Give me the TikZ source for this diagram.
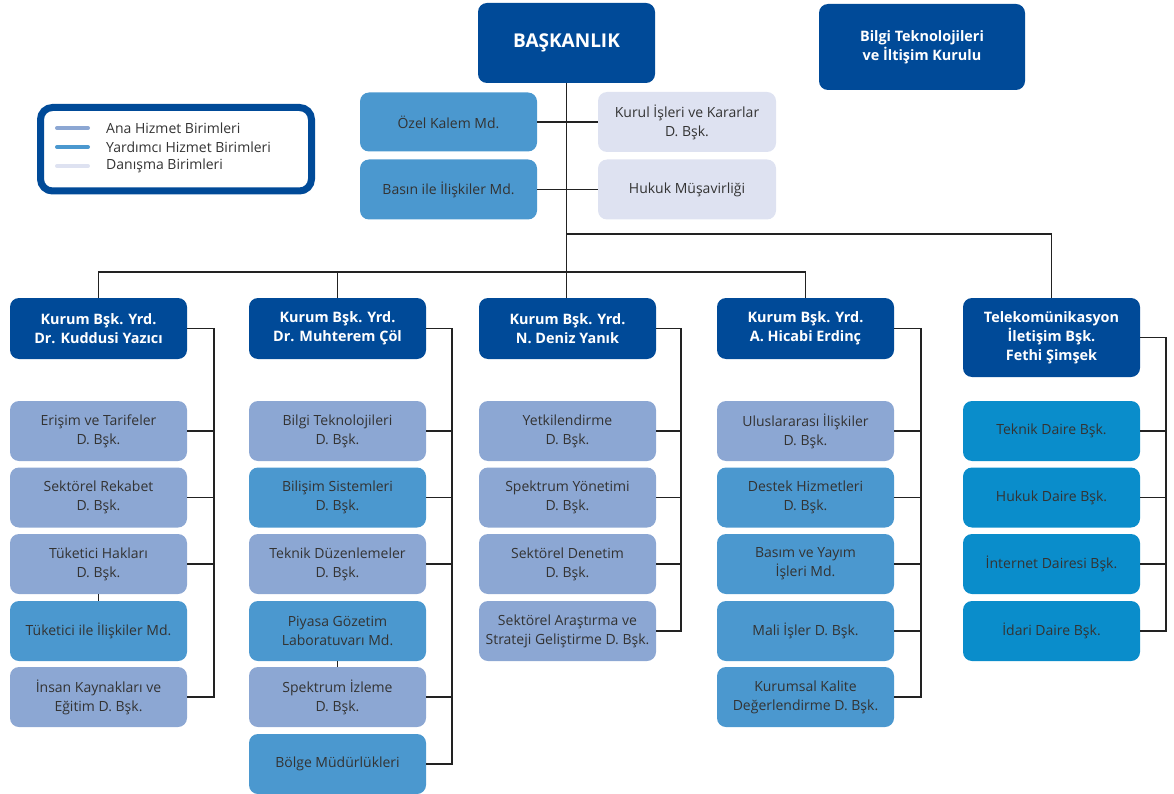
\documentclass[tikz,border=0pt]{standalone}
\usepackage{fontspec}
\setmainfont{Open Sans}
\definecolor{dk}{HTML}{004A98}
\definecolor{ana}{HTML}{8CA7D3}
\definecolor{yard}{HTML}{4B98CF}
\definecolor{dan}{HTML}{DEE2F1}
\definecolor{tel}{HTML}{0A8DCB}
\definecolor{txt}{HTML}{333333}
\definecolor{ln}{HTML}{222222}
\tikzset{
  box/.style={rounded corners=9pt, minimum width=177pt, minimum height=60pt, align=center, inner sep=0pt, text=txt, font=\fontsize{14}{19}\selectfont},
  anabox/.style={box, fill=ana},
  yardbox/.style={box, fill=yard},
  danbox/.style={box, fill=dan},
  telbox/.style={box, fill=tel},
  headbox/.style={box, fill=dk, text=white, font=\bfseries\fontsize{14.4}{19}\selectfont},
  legtext/.style={anchor=west, inner sep=0pt, text=txt, font=\fontsize{14}{15}\selectfont},
  conn/.style={draw=ln, line width=1.8pt},
}
\begin{document}
\begin{tikzpicture}[x=1pt,y=-1pt]
\useasboundingbox (0,0) rectangle (1174,794);
% top
\node[headbox, minimum width=177pt, minimum height=80pt, font=\bfseries\fontsize{19}{19}\selectfont] (bas) at (566.5,43) {BAŞKANLIK};
\node[headbox, minimum width=206pt, minimum height=86pt] (btk) at (922,47) {Bilgi Teknolojileri\\ve İltişim Kurulu};
\node[yardbox, minimum height=59pt] (ozel) at (448.5,122) {Özel Kalem Md.};
\node[yardbox] (basin) at (448.5,189.5) {Basın ile İlişkiler Md.};
\node[danbox, minimum width=178pt] (kurul) at (687,122) {Kurul İşleri ve Kararlar\\D. Bşk.};
\node[danbox, minimum width=178pt] (hukuk) at (687,189.5) {Hukuk Müşavirliği};
% legend
\draw[dk, line width=7pt, rounded corners=12pt] (40.5,107.5) rectangle (311.5,191);
\draw[ana, line width=4pt, line cap=round] (57,128) -- (88,128);
\draw[yard, line width=4pt, line cap=round] (57,147) -- (88,147);
\draw[dan, line width=4pt, line cap=round] (57,166) -- (88,166);
\node[legtext] (l1) at (106,128) {Ana Hizmet Birimleri};
\node[legtext] (l2) at (106,147) {Yardımcı Hizmet Birimleri};
\node[legtext] (l3) at (106,166) {Danışma Birimleri};
% heads
\node[headbox, minimum height=61pt] (h1) at (98.5,328.5) {Kurum Bşk. Yrd.\\Dr. Kuddusi Yazıcı};
\node[headbox, minimum height=61pt] (h2) at (337.5,328.5) {Kurum Bşk. Yrd.\\Dr. Muhterem Çöl};
\node[headbox, minimum height=61pt] (h3) at (567.5,328.5) {Kurum Bşk. Yrd.\\N. Deniz Yanık};
\node[headbox, minimum height=61pt] (h4) at (805.5,328.5) {Kurum Bşk. Yrd.\\A. Hicabi Erdinç};
\node[headbox, minimum height=79pt] (h5) at (1051.5,337.5) {Telekomünikasyon\\İletişim Bşk.\\Fethi Şimşek};
% column 1
\node[anabox] (a1) at (98.5,431) {Erişim ve Tarifeler\\D. Bşk.};
\node[anabox] (a2) at (98.5,497.5) {Sektörel Rekabet\\D. Bşk.};
\node[anabox] (a3) at (98.5,564) {Tüketici Hakları\\D. Bşk.};
\node[yardbox] (a4) at (98.5,631) {Tüketici ile İlişkiler Md.};
\node[anabox] (a5) at (98.5,697) {İnsan Kaynakları ve\\Eğitim D. Bşk.};
% column 2
\node[anabox] (b1) at (337.5,431) {Bilgi Teknolojileri\\D. Bşk.};
\node[yardbox] (b2) at (337.5,497.5) {Bilişim Sistemleri\\D. Bşk.};
\node[anabox] (b3) at (337.5,564) {Teknik Düzenlemeler\\D. Bşk.};
\node[yardbox] (b4) at (337.5,631) {Piyasa Gözetim\\Laboratuvarı Md.};
\node[anabox] (b5) at (337.5,697) {Spektrum İzleme\\D. Bşk.};
\node[yardbox] (b6) at (337.5,764) {Bölge Müdürlükleri};
% column 3
\node[anabox] (c1) at (567.5,431) {Yetkilendirme\\D. Bşk.};
\node[anabox] (c2) at (567.5,497.5) {Spektrum Yönetimi\\D. Bşk.};
\node[anabox] (c3) at (567.5,564) {Sektörel Denetim\\D. Bşk.};
\node[anabox] (c4) at (567.5,631) {Sektörel Araştırma ve\\Strateji Geliştirme D. Bşk.};
% column 4
\node[anabox] (d1) at (805.5,431) {Uluslararası İlişkiler\\D. Bşk.};
\node[yardbox] (d2) at (805.5,497.5) {Destek Hizmetleri\\D. Bşk.};
\node[yardbox] (d3) at (805.5,564) {Basım ve Yayım\\İşleri Md.};
\node[yardbox] (d4) at (805.5,631) {Mali İşler D. Bşk.};
\node[yardbox] (d5) at (805.5,697) {Kurumsal Kalite\\Değerlendirme D. Bşk.};
% column 5
\node[telbox] (e1) at (1051.5,431) {Teknik Daire Bşk.};
\node[telbox] (e2) at (1051.5,497.5) {Hukuk Daire Bşk.};
\node[telbox] (e3) at (1051.5,564) {İnternet Dairesi Bşk.};
\node[telbox] (e4) at (1051.5,631) {İdari Daire Bşk.};
% connectors top
\coordinate (tj) at (567,234);
\coordinate (bus) at (567,272);
\draw[conn] (bas.south) -- (bas.south |- h3.north);
\draw[conn] (ozel.east) -- (kurul.west);
\draw[conn] (basin.east) -- (hukuk.west);
\draw[conn] (tj) -| (h5.north);
\draw[conn] (h1.north) |- (bus) -| (h4.north);
\draw[conn] (h2.north) -- (h2.north |- bus);
% brackets
\coordinate (k1) at (214,0);
\coordinate (k2) at (452,0);
\coordinate (k3) at (681,0);
\coordinate (k4) at (921,0);
\coordinate (k5) at (1166,0);
\draw[conn] (h1.east) -| (k1 |- a5.east) -- (a5.east);
\foreach \n in {a1,a2,a3} \draw[conn] (\n.east) -- (k1 |- \n.east);
\draw[conn] (a3.south) -- (a4.north);
\draw[conn] (h2.east) -| (k2 |- b6.east) -- (b6.east);
\foreach \n in {b1,b2,b3,b5} \draw[conn] (\n.east) -- (k2 |- \n.east);
\draw[conn] (b4.south) -- (b5.north);
\draw[conn] (h3.east) -| (k3 |- c4.east) -- (c4.east);
\foreach \n in {c1,c2,c3} \draw[conn] (\n.east) -- (k3 |- \n.east);
\draw[conn] (h4.east) -| (k4 |- d5.east) -- (d5.east);
\foreach \n in {d1,d2,d3,d4} \draw[conn] (\n.east) -- (k4 |- \n.east);
\draw[conn] (h5.east) -| (k5 |- e4.east) -- (e4.east);
\foreach \n in {e1,e2,e3} \draw[conn] (\n.east) -- (k5 |- \n.east);
\end{tikzpicture}
\end{document}
